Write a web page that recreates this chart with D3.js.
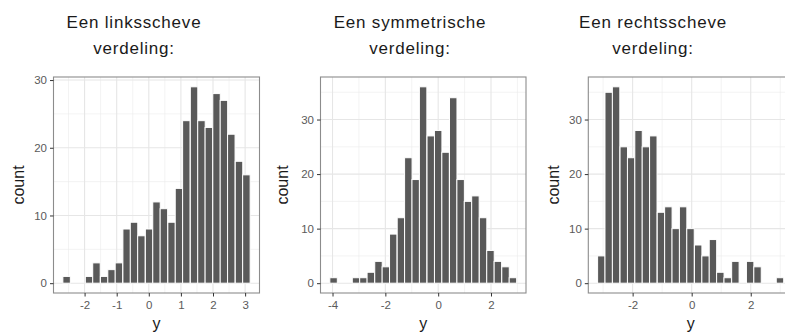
<!DOCTYPE html>
<html>
<head>
<meta charset="utf-8">
<script src="https://cdn.jsdelivr.net/npm/d3@7"></script>
<style>
  body { margin: 0; background: #fff; }
  text { font-family: "Liberation Sans", Arial, sans-serif; }
</style>
</head>
<body>
<svg id="chart"></svg>
<script>
// bin centres and counts
const linksCenters = [-2.56,-2.33,-2.09,-1.86,-1.63,-1.39,-1.16,-0.93,-0.69,-0.46,-0.23,0.01,0.24,0.47,0.71,0.94,1.17,1.41,1.64,1.87,2.11,2.34,2.57,2.81,3.04];
const linksCounts  = [1,0,0,1,3,1,2,3,8,9,7,8,12,11,9,14,24,29,24,23,28,27,22,18,16];
const linksBinWidth = 0.233;

const symCenters = [-3.96,-3.68,-3.39,-3.11,-2.83,-2.55,-2.26,-1.98,-1.70,-1.41,-1.13,-0.85,-0.57,-0.28,0.00,0.28,0.57,0.85,1.13,1.41,1.70,1.98,2.26,2.55,2.83];
const symCounts  = [1,0,0,1,1,2,4,3,9,12,23,19,36,27,28,24,34,19,15,16,12,6,4,3,1];
const symBinWidth = 0.283;

const rechtsCenters = [-3.06,-2.81,-2.56,-2.30,-2.05,-1.80,-1.55,-1.30,-1.04,-0.79,-0.54,-0.29,-0.04,0.22,0.47,0.72,0.97,1.22,1.48,1.73,1.98,2.23,2.48,2.74,2.99];
const rechtsCounts  = [5,35,36,25,23,28,25,27,13,14,10,14,10,7,5,8,2,1,4,0,4,3,0,0,1];
const rechtsBinWidth = 0.252;

const titles = [["Een linksscheve", "verdeling:"], ["Een symmetrische", "verdeling:"], ["Een rechtsscheve", "verdeling:"]];
const xTicks = [[-2,-1,0,1,2,3], [-4,-2,0,2], [-2,0,2]];
const yTicks = [[0,10,20,30], [0,10,20,30], [0,10,20,30]];

const svg = d3.select('#chart')
  .attr('width', 785)
  .attr('height', 336);

// panel placement (pixels)
const layout = [
  { x0: 53.5, x1: 259.5, titleX: 134, countX: 18 },
  { x0: 320.5, x1: 526, titleX: 410, countX: 282 },
  { x0: 588.3, x1: 793, titleX: 653, countX: 553 }
];
const plotTop = 77, plotBottom = 293;

const panels = [
  { centers: linksCenters, counts: linksCounts, binw: linksBinWidth },
  { centers: symCenters, counts: symCounts, binw: symBinWidth },
  { centers: rechtsCenters, counts: rechtsCounts, binw: rechtsBinWidth }
];

panels.forEach((p, i) => {
  const L = layout[i];
  const half = p.binw / 2;
  const lo = d3.min(p.centers) - half, hi = d3.max(p.centers) + half;
  const pad = (hi - lo) * 0.05;
  const x = d3.scaleLinear().domain([lo - pad, hi + pad]).range([L.x0, L.x1]);
  const maxC = d3.max(p.counts);
  const y = d3.scaleLinear().domain([-maxC * 0.05, maxC * 1.05]).range([plotBottom, plotTop]);

  const g = svg.append('g');

  // minor + major grid
  const xt = xTicks[i], yt = yTicks[i];
  const xStep = xt[1] - xt[0], yStep = yt[1] - yt[0];
  const xMinor = d3.range(xt[0] - xStep * 3.5, xt[xt.length - 1] + xStep * 3, xStep)
    .filter(v => v > x.domain()[0] && v < x.domain()[1]);
  const yMinor = d3.range(yt[0] - yStep * 0.5, yt[yt.length - 1] + yStep, yStep)
    .filter(v => v > y.domain()[0] && v < y.domain()[1]);

  g.selectAll('.xminor').data(xMinor).enter().append('line')
    .attr('x1', d => x(d)).attr('x2', d => x(d))
    .attr('y1', plotTop).attr('y2', plotBottom)
    .attr('stroke', '#ebebeb').attr('stroke-width', 0.6);
  g.selectAll('.yminor').data(yMinor).enter().append('line')
    .attr('x1', L.x0).attr('x2', L.x1)
    .attr('y1', d => y(d)).attr('y2', d => y(d))
    .attr('stroke', '#ebebeb').attr('stroke-width', 0.6);
  g.selectAll('.xmajor').data(xt).enter().append('line')
    .attr('x1', d => x(d)).attr('x2', d => x(d))
    .attr('y1', plotTop).attr('y2', plotBottom)
    .attr('stroke', '#e6e6e6').attr('stroke-width', 1.1);
  g.selectAll('.ymajor').data(yt).enter().append('line')
    .attr('x1', L.x0).attr('x2', L.x1)
    .attr('y1', d => y(d)).attr('y2', d => y(d))
    .attr('stroke', '#e6e6e6').attr('stroke-width', 1.1);

  // bars
  const bins = p.centers.map((c, k) => ({ c: c, n: p.counts[k] })).filter(d => d.n > 0);
  g.selectAll('rect.bar').data(bins).enter().append('rect')
    .attr('class', 'bar')
    .attr('x', d => x(d.c - half))
    .attr('width', d => x(d.c + half) - x(d.c - half))
    .attr('y', d => y(d.n))
    .attr('height', d => y(0) - y(d.n))
    .attr('fill', '#595959')
    .attr('stroke', '#ffffff')
    .attr('stroke-width', 1);

  // border
  g.append('rect')
    .attr('x', L.x0).attr('y', plotTop)
    .attr('width', L.x1 - L.x0).attr('height', plotBottom - plotTop)
    .attr('fill', 'none').attr('stroke', '#8c8c8c').attr('stroke-width', 1.1);

  // axes
  const gx = g.append('g')
    .attr('transform', `translate(0,${plotBottom})`)
    .call(d3.axisBottom(x).tickValues(xt).tickSize(3.5).tickPadding(4).tickFormat(d => String(d)));
  const gy = g.append('g')
    .attr('transform', `translate(${L.x0},0)`)
    .call(d3.axisLeft(y).tickValues(yt).tickSize(3.5).tickPadding(3).tickFormat(d => String(d)));
  [gx, gy].forEach(a => {
    a.select('.domain').remove();
    a.selectAll('line').attr('stroke', '#333');
    a.selectAll('text').attr('fill', '#5a5a5a').style('font-size', '11.5px');
  });

  // axis titles
  g.append('text')
    .attr('x', (L.x0 + L.x1) / 2)
    .attr('y', 329)
    .attr('text-anchor', 'middle')
    .style('font-size', '16px')
    .attr('fill', '#1a1a1a')
    .text('y');
  g.append('text')
    .attr('transform', `translate(${L.countX},${(plotTop + plotBottom) / 2}) rotate(-90)`)
    .attr('text-anchor', 'middle')
    .attr('dy', '0.35em')
    .style('font-size', '16px')
    .attr('fill', '#1a1a1a')
    .text('count');

  // title
  const tt = g.append('text')
    .attr('text-anchor', 'middle')
    .style('font-size', '17px')
    .style('letter-spacing', '0.8px')
    .attr('fill', '#1a1a1a');
  tt.append('tspan').attr('x', L.titleX).attr('y', 28).text(titles[i][0]);
  tt.append('tspan').attr('x', L.titleX).attr('y', 54).text(titles[i][1]);
});
</script>
</body>
</html>
